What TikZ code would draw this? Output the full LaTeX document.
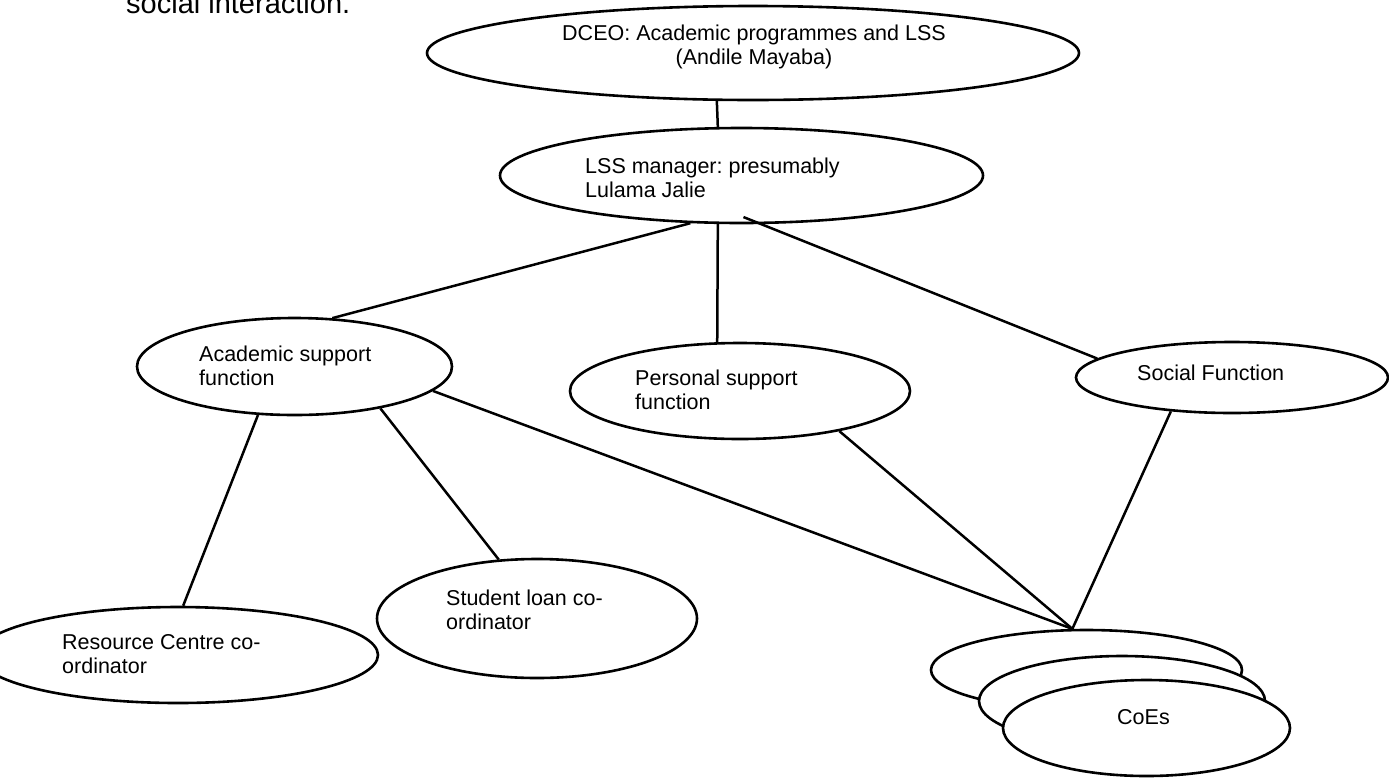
\documentclass[tikz,border=0pt]{standalone}
\usepackage{fontspec}
\setmainfont{Liberation Sans}
\usetikzlibrary{shapes.geometric}
\frenchspacing

\tikzset{
  box/.style={draw, ellipse, line width=2.6pt, inner sep=0pt, fill=white},
  txt/.style={inner sep=0pt, align=left, font=\fontsize{21.5}{24}\selectfont},
  link/.style={line width=2.5pt},
}

\begin{document}
\begin{tikzpicture}[x=1pt, y=-1pt]
% frame
\useasboundingbox[fill=white] (0,0) rectangle (1389,777);
\clip (0,0) rectangle (1389,777);

% line of the page above the chart
\node[anchor=base west, inner sep=0pt, font=\fontsize{29}{34}\selectfont] (intro) at (126,13) {social interaction.};

% top of the chart
\node[box, minimum width=652pt, minimum height=94pt] (dceo) at (753,53) {};
\node[box, minimum width=483pt, minimum height=95pt] (lss) at (741.5,175.5) {};

% functions
\node[box, minimum width=315pt, minimum height=97pt] (acad) at (294.5,366.5) {};
\node[box, minimum width=340pt, minimum height=96pt] (personal) at (740,391) {};
\node[box, minimum width=312pt, minimum height=71pt] (social) at (1232,377.5) {};

% co-ordinators
\node[box, minimum width=320pt, minimum height=119pt] (student) at (537,618.5) {};
\node[box, minimum width=400pt, minimum height=96pt] (resource) at (178,655) {};

% CoEs (stack of three)
\node[box, minimum width=311pt, minimum height=80pt] (coesback) at (1086.5,670) {};
\node[box, minimum width=286pt, minimum height=90pt] (coesmid) at (1122,701) {};
\node[box, minimum width=287pt, minimum height=96pt] (coes) at (1146.5,728) {};

% labels (base = last line)
\node[txt, align=center, anchor=base] (dceo label) at (754,64) {DCEO: Academic programmes and LSS\\(Andile Mayaba)};
\node[txt, anchor=base west] (lss label) at (585,197) {LSS manager: presumably\\Lulama Jalie};
\node[txt, anchor=base west] (acad label) at (199,385) {Academic support\\function};
\node[txt, anchor=base west] (personal label) at (635,409) {Personal support\\function};
\node[txt, anchor=base west] (social label) at (1137,380) {Social Function};
\node[txt, anchor=base west] (student label) at (446,629) {Student loan co-\\ordinator};
\node[txt, anchor=base west] (resource label) at (62,673) {Resource Centre co-\\ordinator};
\node[txt, anchor=base west] (coes label) at (1117,724) {CoEs};

% links
\draw[link] (dceo.-127) -- (lss.116);
\draw[link] (lss.-137) -- (acad.52);
\draw[link] (lss.-116) -- (personal.115);
\draw[link, shorten <=-19pt] (lss.-68) -- (social.172);
\draw[link] (acad.-127) -- (resource.84);
\draw[link] (acad.-26) -- (student.123);
\foreach \from/\ang in {acad/-10, personal/-22, social/-151}
  \draw[link] (\from.\ang) -- (coesback.109);

\end{tikzpicture}
\end{document}
